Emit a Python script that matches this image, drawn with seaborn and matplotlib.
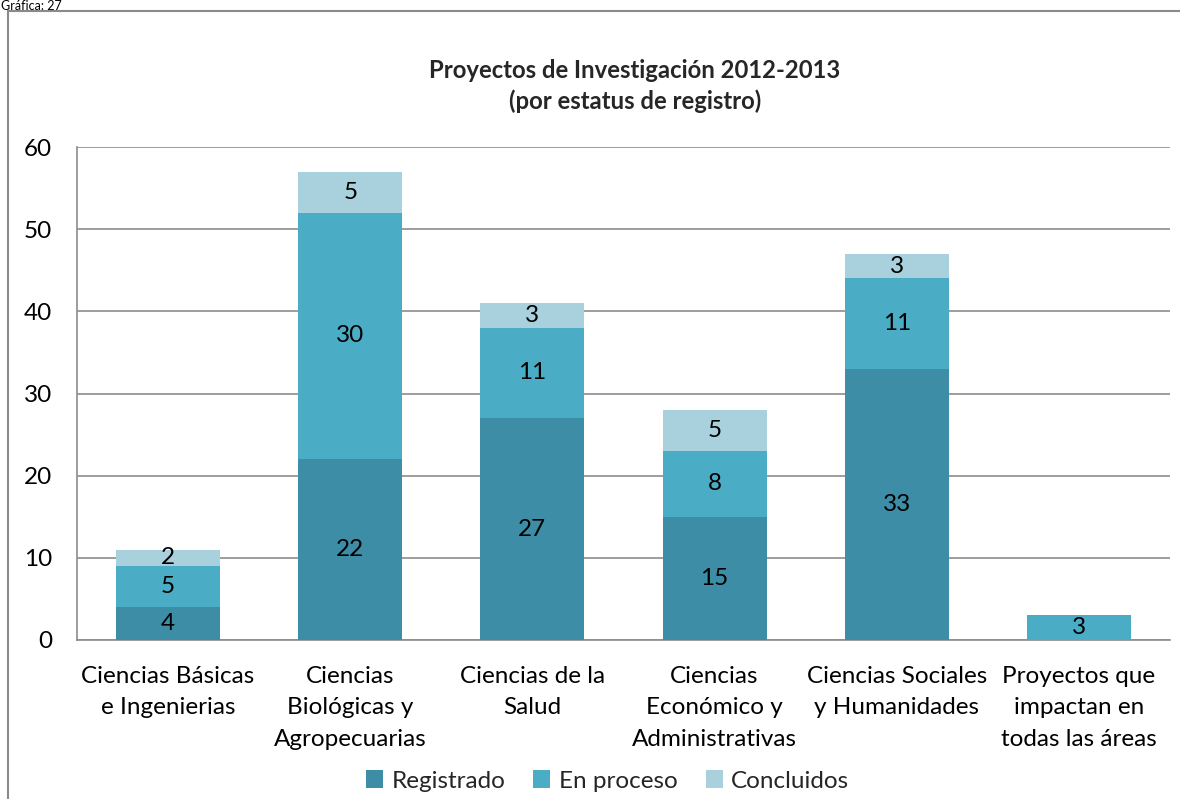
import pandas as pd
import seaborn as sns
import matplotlib.pyplot as plt
from matplotlib.patches import Patch, Rectangle

areas = ['Ciencias Básicas\ne Ingenierias', 'Ciencias\nBiológicas y\nAgropecuarias',
         'Ciencias de la\nSalud', 'Ciencias\nEconómico y\nAdministrativas',
         'Ciencias Sociales\ny Humanidades', 'Proyectos que\nimpactan en\ntodas las áreas']
registrado = [4, 22, 27, 15, 33, 0]
en_proceso = [5, 30, 11, 8, 11, 3]
concluidos = [2, 5, 3, 5, 3, 0]

series = ['Registrado', 'En proceso', 'Concluidos']
colors = ['#3E8DA6', '#4BACC6', '#A9D0DD']

df = pd.DataFrame({'Area': areas, 'Registrado': registrado,
                   'En proceso': en_proceso, 'Concluidos': concluidos})
df['c1'] = df['Registrado']
df['c2'] = df['c1'] + df['En proceso']
df['c3'] = df['c2'] + df['Concluidos']

sns.set_theme(style='white')
plt.rcParams['font.family'] = ['Lato', 'DejaVu Sans']

fig = plt.figure(figsize=(11.8, 7.99), dpi=100)
ax = fig.add_axes([77 / 1180, 1 - 640 / 799, (1170 - 77) / 1180, (640 - 147) / 799])

# stacked bars: totals first, then the smaller cumulative sums over them
for col, color in zip(['c3', 'c2', 'c1'], colors[::-1]):
    sns.barplot(data=df, x='Area', y=col, color=color, width=0.57,
                saturation=1, linewidth=0, ax=ax, zorder=3)

# segment labels
for i, row in df.iterrows():
    lows = [0, row['c1'], row['c2']]
    for s, low in zip(series, lows):
        v = row[s]
        if v > 0:
            ax.text(i, low + v / 2, str(v), ha='center', va='center',
                    fontsize=17.5, color='black', zorder=4)

ax.set_ylim(0, 60)
ax.set_xlim(-0.5, 5.5)
ax.set_yticks(range(0, 61, 10))
ax.yaxis.grid(True, color='#8c8c8c', linewidth=1.2, zorder=0)
ax.set_axisbelow(True)
ax.set_xlabel('')
ax.set_ylabel('')
for side in ['top', 'right']:
    ax.spines[side].set_visible(False)
for side in ['left', 'bottom']:
    ax.spines[side].set_color('#8c8c8c')
    ax.spines[side].set_linewidth(1.2)
ax.tick_params(axis='both', length=0, labelsize=17.5, colors='black')
ax.tick_params(axis='y', pad=18)
ax.tick_params(axis='x', pad=18.5)
for t in ax.get_xticklabels():
    t.set_linespacing(1.62)

fig.text(0.538, 1 - 86 / 799,
         'Proyectos de Investigación 2012-2013\n(por estatus de registro)',
         ha='center', va='center', fontsize=17.2, fontweight='bold', linespacing=1.42)

handles = [Patch(facecolor=c, edgecolor='none', label=s) for s, c in zip(series, colors)]
fig.legend(handles=handles, loc='center', bbox_to_anchor=(0.515, 1 - 781 / 799),
           ncol=3, frameon=False, fontsize=17.5, handlelength=0.7, handleheight=0.7,
           handletextpad=0.35, columnspacing=1.15)

fig.patches.append(Rectangle((8 / 1180, -0.1), 1.2, 1 - 11 / 799 + 0.1,
                             transform=fig.transFigure, fill=False,
                             edgecolor='#8a8a8a', linewidth=1.5))
fig.text(1 / 1180, 1 - 9.5 / 799, 'Gráfica: 27', ha='left', va='baseline',
         fontsize=9, color='black')

fig.savefig('out.png', dpi=100)
